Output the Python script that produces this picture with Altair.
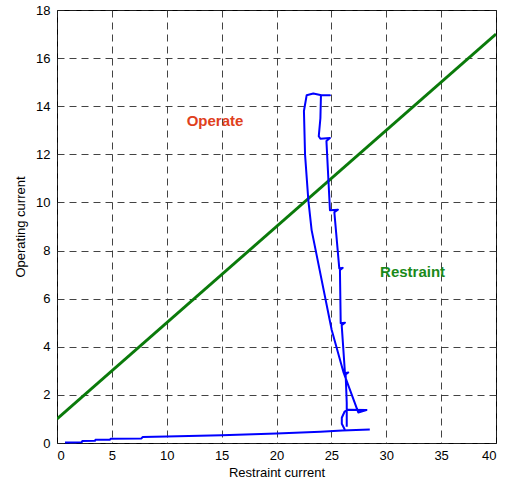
import altair as alt
import pandas as pd

# Restraint characteristic line (green)
char_x = [0, 40]
char_y = [1, 17]

# Trajectory (blue), split into segments
seg_a_x = [0.73, 2.25, 2.3, 3.46, 3.5, 4.83, 4.9, 7.7, 7.8, 10, 15, 20, 24, 26, 28.5]
seg_a_y = [0.02, 0.03, 0.08, 0.09, 0.13, 0.14, 0.18, 0.19, 0.25, 0.27, 0.32, 0.40, 0.47, 0.52, 0.56]

seg_b_x = [26.24, 25.95, 25.95, 26.2, 26.5, 28.2, 27.45, 26.09, 25.03, 23.2, 22.9, 22.6, 22.5,
           22.75, 23.35, 24.1, 24.87, 24.05, 24.0, 23.85, 24.0, 24.87, 24.55, 24.87, 25.6,
           25.27, 25.72, 26.03, 25.78, 25.85, 26.24, 25.94, 26.24, 26.54, 26.3, 26.4, 26.4]
seg_b_y = [0.54, 0.8, 1.05, 1.3, 1.38, 1.37, 1.27, 2.96, 4.7, 8.85, 10.1, 12.0, 13.8,
           14.46, 14.53, 14.46, 14.46, 14.46, 13.5, 12.75, 12.65, 12.68, 12.55, 9.68, 9.7,
           9.6, 7.26, 7.28, 7.19, 4.98, 5.0, 4.9, 2.9, 2.93, 2.85, 1.67, 0.68]

labels_text = ["Operate", "Restraint"]
labels_x = [14.4, 32.4]
labels_y = [13.4, 7.1]
labels_color = ["#e0401c", "#1a8a1a"]

traj = pd.DataFrame({
    "x": seg_a_x + seg_b_x,
    "y": seg_a_y + seg_b_y,
    "seg": ["a"] * len(seg_a_x) + ["b"] * len(seg_b_x),
    "order": list(range(len(seg_a_x))) + list(range(len(seg_b_x))),
})
char = pd.DataFrame({"x": char_x, "y": char_y})
labs = pd.DataFrame({"t": labels_text, "x": labels_x, "y": labels_y, "c": labels_color})

xs = alt.Scale(domain=[0, 40], nice=False, zero=False)
ys = alt.Scale(domain=[0, 18], nice=False, zero=False)

common = dict(grid=True, gridDash=[7, 5], gridColor="#222222", gridOpacity=0.85, ticks=False,
              domain=False, labelFont="Liberation Sans", titleFont="Liberation Sans",
              labelFontSize=13, titleFontSize=13, titleFontWeight="normal",
              labelColor="black", titleColor="black")
xax = alt.Axis(title="Restraint current", values=list(range(0, 41, 5)),
               labelPadding=6, titlePadding=4, **common)
yax = alt.Axis(title="Operating current", values=list(range(0, 19, 2)),
               labelPadding=7, titlePadding=8, **common)

base_line = alt.Chart(char).mark_line(color="#0a7a0a", strokeWidth=3, clip=True).encode(
    x=alt.X("x:Q", scale=xs, axis=xax),
    y=alt.Y("y:Q", scale=ys, axis=yax),
)

traj_line = alt.Chart(traj).mark_line(color="#0000ff", strokeWidth=2, strokeJoin="round").encode(
    x=alt.X("x:Q", scale=xs),
    y=alt.Y("y:Q", scale=ys),
    detail="seg:N",
    order="order:Q",
)

texts = alt.Chart(labs).mark_text(fontWeight="bold", fontSize=15, font="Liberation Sans").encode(
    x=alt.X("x:Q", scale=xs),
    y=alt.Y("y:Q", scale=ys),
    text="t:N",
    color=alt.Color("c:N", scale=None),
)

chart = alt.layer(base_line, traj_line, texts).properties(
    width=439, height=433,
    background="white",
    autosize=alt.AutoSizeParams(type="none"),
    padding={"left": 57, "top": 10, "right": 10, "bottom": 40},
).configure_view(stroke="black", strokeWidth=1)

chart.save("out.html", embed_options={"renderer": "svg", "actions": False})
